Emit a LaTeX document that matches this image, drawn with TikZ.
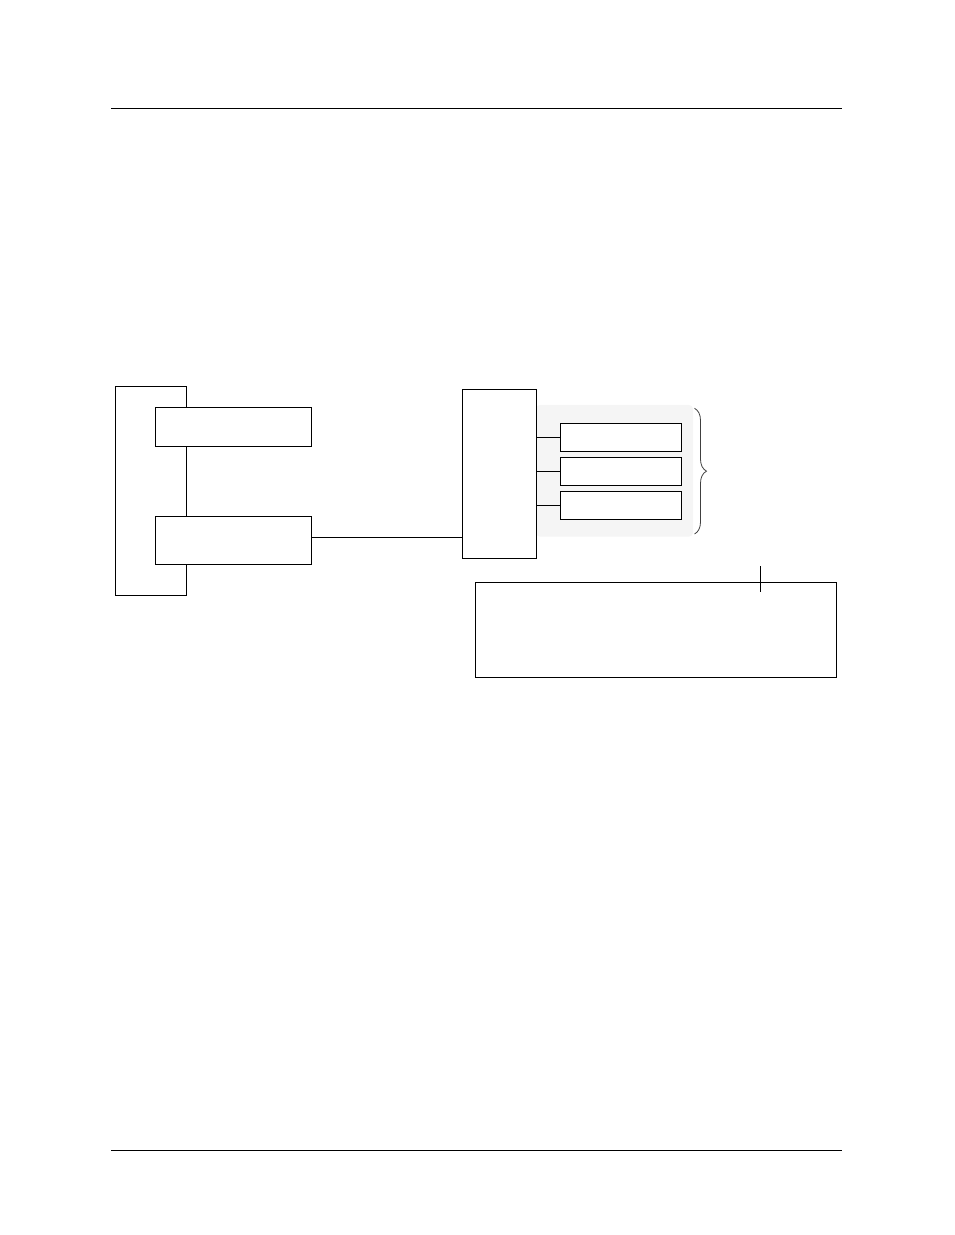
\documentclass[tikz,border=0pt]{standalone}
\usepackage{xcolor}
\usepackage{tikz}
\usetikzlibrary{arrows.meta}
\usetikzlibrary{positioning, decorations.pathreplacing}
\tikzset{
box/.style = { rectangle, draw = black, fill = white, line width = 0.9pt, inner sep = 0pt, outer sep = 0pt },
panel/.style = { rectangle, draw = none, fill = black!4, rounded corners = 4pt, inner sep = 0pt, outer sep = 0pt },
link/.style = { draw = black, line width = 0.9pt },
rule/.style = { draw = black, line width = 1pt },
}

\begin{document}
\begin{tikzpicture}[x = 1pt, y = -1pt]
    \useasboundingbox (0, 0) rectangle (954, 1235);
    % page rules
    \coordinate (ruleTL) at (111, 108.3);
    \coordinate (ruleTR) at (842, 108.3);
    \coordinate (ruleBL) at (111, 1150.3);
    \coordinate (ruleBR) at (842, 1150.3);
    \draw[rule] (ruleTL) -- (ruleTR);
    \draw[rule] (ruleBL) -- (ruleBR);
    % left unit
    \node[box, minimum width = 71pt, minimum height = 209pt] (frame) at (150.8, 490.8) {};
    \node[box, minimum width = 156pt, minimum height = 39pt] (ctrlA) at (233.3, 426.8) {};
    \node[box, minimum width = 156pt, minimum height = 48pt] (ctrlB) at (233.3, 540) {};
    % right unit
    \node[panel, minimum width = 157pt, minimum height = 131.7pt] (slots) at (614.5, 470.8) {};
    \node[box, minimum width = 74pt, minimum height = 169.7pt] (hub) at (499.3, 473.9) {};
    \node[box, minimum width = 121pt, minimum height = 27.7pt] (slotA) at (620.8, 437.2) {};
    \node[box, minimum width = 121pt, minimum height = 28pt] (slotB) at (620.8, 471.3) {};
    \node[box, minimum width = 121pt, minimum height = 28pt] (slotC) at (620.8, 505.3) {};
    \draw[link] ([yshift = 3pt]ctrlB.east) -- ([yshift = 3pt]ctrlB.east -| hub.west);
    \draw[link] (slotA.west -| hub.east) -- (slotA.west);
    \draw[link] (slotB.west -| hub.east) -- (slotB.west);
    \draw[link] (slotC.west -| hub.east) -- (slotC.west);
    % brace
    \coordinate (braceTop) at (694.5, 408.3);
    \coordinate (braceBot) at (694.5, 534);
    \draw[black!75, line width = 0.8pt, decorate, decoration = {brace, amplitude = 12pt}] (braceTop) -- (braceBot);
    % note box
    \node[box, minimum width = 361.4pt, minimum height = 94.7pt] (note) at (656, 629.7) {};
    \coordinate (tickTop) at (760.3, 566);
    \coordinate (tickBot) at (760.3, 591.7);
    \draw[link] (tickTop) -- (tickBot);
\end{tikzpicture}
\end{document}
